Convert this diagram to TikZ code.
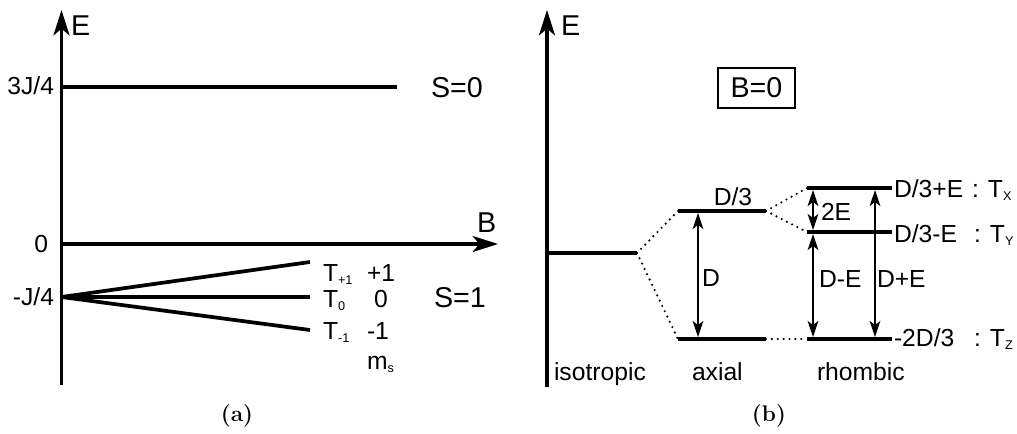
\documentclass[tikz,border=0pt]{standalone}
\usepackage{fontspec}
\setsansfont{Liberation Sans}
\usetikzlibrary{arrows.meta}
\newcommand{\lowidx}[1]{\raisebox{-2.6pt}{\fontsize{9.5}{10}\selectfont #1}}
\begin{document}
\begin{tikzpicture}[x=0.75pt, y=-0.75pt, inner sep=0, outer sep=0,
    font=\sffamily\fontsize{18.5}{21}\selectfont,
    axis/.style={line width=2.6pt, -{Stealth[length=19pt, width=12pt, inset=5pt]}},
    level/.style={line width=2.8pt},
    link/.style={line width=1.8pt, line cap=round, dash pattern=on 0pt off 4.4pt},
    gap/.style={line width=1.5pt, shorten <=1.5pt, shorten >=1.5pt,
      {Stealth[length=12pt, width=8pt, inset=3pt]}-{Stealth[length=12pt, width=8pt, inset=3pt]}},
    big/.style={font=\sffamily\fontsize{21.5}{24}\selectfont},
    caption/.style={font=\fontsize{17}{19}\selectfont\rmfamily\bfseries}]
  \useasboundingbox (0,0) rectangle (1017,433);

  % (a) levels in a field B
  \coordinate (aorg) at (61.5,244);
  \draw[axis] (61.5,385) -- (61.5,10);
  \draw (71,35) node[anchor=base west, big] (aE) {E};
  \draw[axis] (aorg) -- (498,244);
  \draw (477,232) node[anchor=base west, big] (aB) {B};
  \draw (48,252) node[anchor=base east] (azero) {0};

  \coordinate (sing) at (61.5,87);
  \draw[level] (sing) -- (397,87) coordinate (singR);
  \draw (54,94) node[anchor=base east] (asing) {3J/4};
  \draw (431,97) node[anchor=base west, big] (aS0) {S=0};

  \coordinate (trip) at (61.5,297);
  \draw[level] (trip) -- (310,262) coordinate (tplus);
  \draw[level] (trip) -- (310,297) coordinate (tzero);
  \draw[level] (trip) -- (310,330) coordinate (tminus);
  \draw (54,305) node[anchor=base east] (atrip) {-J/4};
  \draw (434,307) node[anchor=base west, big] (aS1) {S=1};

  \draw (323,281) node[anchor=base west] (Tp) {T\lowidx{+1}};
  \draw (323,307) node[anchor=base west] (T0) {T\lowidx{0}};
  \draw (323,339) node[anchor=base west] (Tm) {T\lowidx{-1}};
  \draw (367,281) node[anchor=base west] (mp) {+1};
  \draw (381,307) node[anchor=base] (m0) {0};
  \draw (367,339) node[anchor=base west] (mm) {-1};
  \draw (367,369) node[anchor=base west] (ms) {m\lowidx{s}};

  \draw (237,416) node[caption] (capa) {(a)};

  % (b) zero-field splitting
  \draw[axis] (547,387) -- (547,10);
  \draw (561,35) node[anchor=base west, big] (bE) {E};
  \draw (756.5,88) node[draw, line width=1pt, big, minimum width=57.75pt, minimum height=30pt] (field) {B=0};

  \coordinate (iso) at (547,253);
  \draw[level] (iso) -- (637,253) coordinate (isoR);
  \draw[level] (678,211) coordinate (axUL) -- (766,211) coordinate (axUR);
  \draw[level] (678,339) coordinate (axLL) -- (766,339) coordinate (axLR);
  \draw[level] (807,188) coordinate (rhXL) -- (892,188) coordinate (rhXR);
  \draw[level] (807,232) coordinate (rhYL) -- (892,232) coordinate (rhYR);
  \draw[level] (807,339) coordinate (rhZL) -- (892,339) coordinate (rhZR);

  \draw[link] (isoR) -- (axUL);
  \draw[link] (isoR) -- (axLL);
  \draw[link] (axUR) -- (rhXL);
  \draw[link] (axUR) -- (rhYL);
  \draw[link] (axLR) -- (rhZL);

  \coordinate (xD) at (698,0);
  \coordinate (xDE) at (813,0);
  \coordinate (xDpE) at (875,0);
  \draw[gap] (xD |- axUL) -- (xD |- axLL);
  \draw[gap] (xDE |- rhXL) -- (xDE |- rhYL);
  \draw[gap] (xDE |- rhYL) -- (xDE |- rhZL);
  \draw[gap] (xDpE |- rhXL) -- (xDpE |- rhZL);

  \draw (733,205) node[anchor=base] (lD3) {D/3};
  \draw (702,286) node[anchor=base west] (lD) {D};
  \draw (821,220) node[anchor=base west] (l2E) {2E};
  \draw (819,287) node[anchor=base west] (lDmE) {D-E};
  \draw (877,287) node[anchor=base west] (lDpE) {D+E};

  \draw (894,197) node[anchor=base west] (eX) {D/3+E};
  \draw (972,197) node[anchor=base west] (tX) {: T\lowidx{X}};
  \draw (894,242) node[anchor=base west] (eY) {D/3-E};
  \draw (974,242) node[anchor=base west] (tY) {: T\lowidx{Y}};
  \draw (894,346) node[anchor=base west] (eZ) {-2D/3};
  \draw (974,346) node[anchor=base west] (tZ) {: T\lowidx{Z}};

  \draw (554,380) node[anchor=base west] (liso) {isotropic};
  \draw (692,380) node[anchor=base west] (lax) {axial};
  \draw (817,380) node[anchor=base west] (lrh) {rhombic};

  \draw (769,416) node[caption] (capb) {(b)};
\end{tikzpicture}
\end{document}
